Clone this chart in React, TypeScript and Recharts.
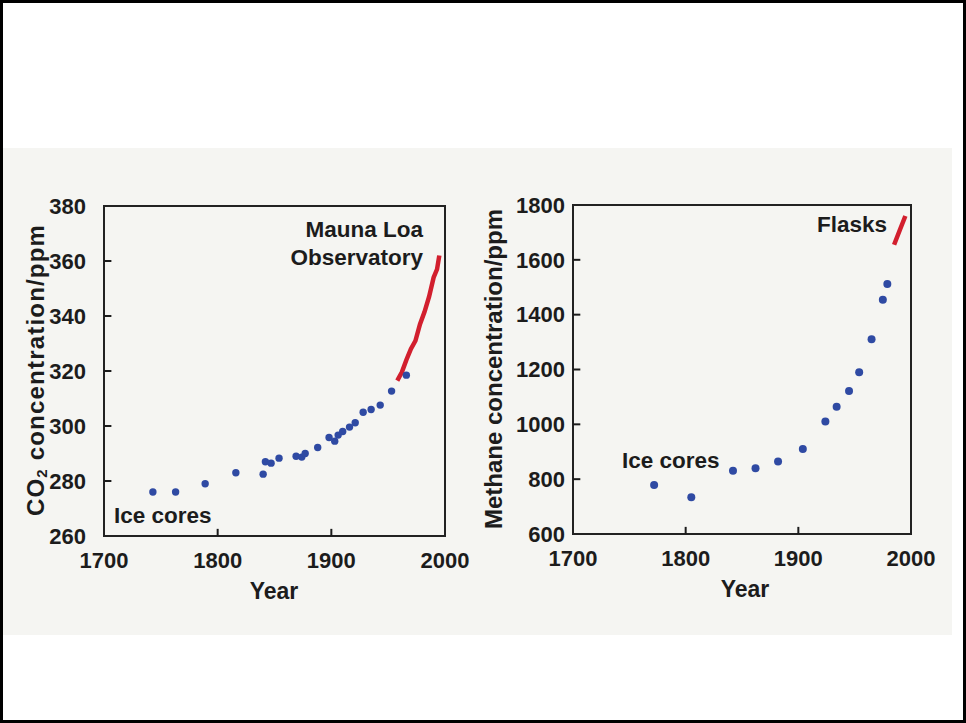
import {
  ComposedChart,
  Scatter,
  Line,
  XAxis,
  YAxis,
  ReferenceArea,
  ReferenceLine,
} from 'recharts'

const YEAR_TICKS = [1700, 1800, 1900, 2000]
const CO2_TICKS = [260, 280, 300, 320, 340, 360, 380]
const CH4_TICKS = [600, 800, 1000, 1200, 1400, 1600, 1800]

// CO2 (left panel)
const CO2_ICE_YEARS = [
  1743, 1763, 1789, 1816, 1840, 1842, 1847, 1854, 1869, 1874, 1877, 1888,
  1898, 1903, 1906, 1910, 1916, 1921, 1928, 1935, 1943, 1953, 1966,
]
const CO2_ICE_PPM = [
  276, 276, 279, 283, 282.5, 287, 286.5, 288.3, 289, 288.7, 290, 292.2,
  295.8, 294.5, 296.7, 298, 299.6, 301.2, 305, 306, 307.6, 312.7, 318.5,
]
const MAUNA_LOA_YEARS = [1958, 1962, 1966, 1970, 1974, 1978, 1982, 1986, 1990, 1993, 1995]
const MAUNA_LOA_PPM = [316.5, 319.5, 324, 328, 331, 337, 341.5, 347, 354, 357, 362]

// methane (right panel)
const CH4_ICE_YEARS = [1772, 1805, 1842, 1862, 1882, 1904, 1924, 1934, 1945, 1954, 1965, 1975, 1979]
const CH4_ICE_PPB = [779, 734, 831, 840, 864, 910, 1010, 1064, 1122, 1190, 1310, 1454, 1512]
const FLASK_YEARS = [1985, 1990, 1995]
const FLASK_PPB = [1655, 1708, 1760]

const FONT = '"Liberation Sans", Arial, Helvetica, sans-serif'
const INK = '#1c1c1c'
const BLUE = '#2f4aa3'
const RED = '#d21f2e'

const zip = (xs: number[], ys: number[]) => xs.map((year, i) => ({ year, value: ys[i] }))

const co2Ice = zip(CO2_ICE_YEARS, CO2_ICE_PPM)
const maunaLoa = zip(MAUNA_LOA_YEARS, MAUNA_LOA_PPM)
const ch4Ice = zip(CH4_ICE_YEARS, CH4_ICE_PPB)
const flasks = zip(FLASK_YEARS, FLASK_PPB)

const tickStyle = { fill: INK, fontSize: 22, fontWeight: 700, fontFamily: FONT }
const textStyle = { fill: INK, fontWeight: 700, fontFamily: FONT }

function dotShape(r: number) {
  return (props: any) => <circle cx={props.cx} cy={props.cy} r={r} fill={BLUE} />
}

// short inward tick marks along the left and bottom edges of the box
function innerTicks(
  xTicks: number[],
  yTicks: number[],
  xLen: number,
  yLen: number,
) {
  const x0 = xTicks[0]
  const y0 = yTicks[0]
  const inner = (t: number[]) => t.slice(1, -1)
  return [
    ...inner(yTicks).map((v) => (
      <ReferenceLine
        key={`y${v}`}
        segment={[{ x: x0, y: v }, { x: x0 + xLen, y: v }]}
        stroke={INK}
        strokeWidth={2}
        ifOverflow="visible"
      />
    )),
    ...inner(xTicks).map((v) => (
      <ReferenceLine
        key={`x${v}`}
        segment={[{ x: v, y: y0 }, { x: v, y: y0 + yLen }]}
        stroke={INK}
        strokeWidth={2}
        ifOverflow="visible"
      />
    )),
  ]
}

function Co2Chart() {
  return (
    <ComposedChart
      width={483}
      height={640}
      margin={{ top: 206, left: 44, right: 38, bottom: 64 }}
    >
      <XAxis
        type="number"
        dataKey="year"
        domain={[1700, 2000]}
        ticks={YEAR_TICKS}
        height={40}
        axisLine={false}
        tickLine={false}
        tickSize={0}
        tickMargin={16}
        tick={tickStyle}
      />
      <YAxis
        type="number"
        dataKey="value"
        domain={[260, 380]}
        ticks={CO2_TICKS}
        width={60}
        axisLine={false}
        tickLine={false}
        tickSize={0}
        tickMargin={18}
        tick={tickStyle}
      />
      <ReferenceArea x1={1700} x2={2000} y1={260} y2={380} fill="none" stroke="#222" strokeWidth={2} />
      {innerTicks(YEAR_TICKS, CO2_TICKS, 6.5, 2.6)}
      <Scatter data={co2Ice} dataKey="value" shape={dotShape(3.7)} isAnimationActive={false} />
      <Line
        data={maunaLoa}
        dataKey="value"
        stroke={RED}
        strokeWidth={4.5}
        dot={false}
        isAnimationActive={false}
      />
      <text x={423} y={237} textAnchor="end" fontSize={22.5} {...textStyle}>Mauna Loa</text>
      <text x={423} y={265} textAnchor="end" fontSize={22.5} {...textStyle}>Observatory</text>
      <text x={114} y={523} fontSize={22.5} {...textStyle}>Ice cores</text>
      <text x={274} y={599} textAnchor="middle" fontSize={23} {...textStyle}>Year</text>
      <text
        x={35}
        y={370}
        transform="rotate(-90 35 370)"
        textAnchor="middle"
        dominantBaseline="central"
        fontSize={24}
        letterSpacing={1.2}
        {...textStyle}
      >
        CO<tspan dy={6} fontSize={15}>2</tspan>
        <tspan dy={-6}> concentration/ppm</tspan>
      </text>
    </ComposedChart>
  )
}

function MethaneChart() {
  return (
    <ComposedChart
      width={496}
      height={640}
      margin={{ top: 205, left: 43, right: 55, bottom: 66 }}
    >
      <XAxis
        type="number"
        dataKey="year"
        domain={[1700, 2000]}
        ticks={YEAR_TICKS}
        height={40}
        axisLine={false}
        tickLine={false}
        tickSize={0}
        tickMargin={16}
        tick={tickStyle}
      />
      <YAxis
        type="number"
        dataKey="value"
        domain={[600, 1800]}
        ticks={CH4_TICKS}
        width={60}
        axisLine={false}
        tickLine={false}
        tickSize={0}
        tickMargin={8}
        tick={tickStyle}
      />
      <ReferenceArea x1={1700} x2={2000} y1={600} y2={1800} fill="none" stroke="#222" strokeWidth={2} />
      {innerTicks(YEAR_TICKS, CH4_TICKS, 6.5, 26)}
      <Scatter data={ch4Ice} dataKey="value" shape={dotShape(4)} isAnimationActive={false} />
      <Line
        data={flasks}
        dataKey="value"
        stroke={RED}
        strokeWidth={4.5}
        dot={false}
        isAnimationActive={false}
      />
      <text x={417} y={232} textAnchor="end" fontSize={22.5} {...textStyle}>Flasks</text>
      <text x={152} y={468} fontSize={22.5} {...textStyle}>Ice cores</text>
      <text x={275} y={597} textAnchor="middle" fontSize={23} {...textStyle}>Year</text>
      <text
        x={23}
        y={369}
        transform="rotate(-90 23 369)"
        textAnchor="middle"
        dominantBaseline="central"
        fontSize={24}
        {...textStyle}
      >
        Methane concentration/ppm
      </text>
    </ComposedChart>
  )
}

export default function App() {
  return (
    <div style={{ position: 'absolute', left: 0, top: 0, width: 966, height: 723, background: '#fff' }}>
      <div style={{ position: 'absolute', left: 3, top: 148, width: 949, height: 487, background: '#f5f5f2' }} />
      <div style={{ position: 'absolute', left: 0, top: 0 }}>
        <Co2Chart />
      </div>
      <div style={{ position: 'absolute', left: 470, top: 0 }}>
        <MethaneChart />
      </div>
      <div
        style={{
          position: 'absolute',
          inset: 0,
          border: '3px solid #000',
          boxSizing: 'border-box',
          pointerEvents: 'none',
        }}
      />
    </div>
  )
}
